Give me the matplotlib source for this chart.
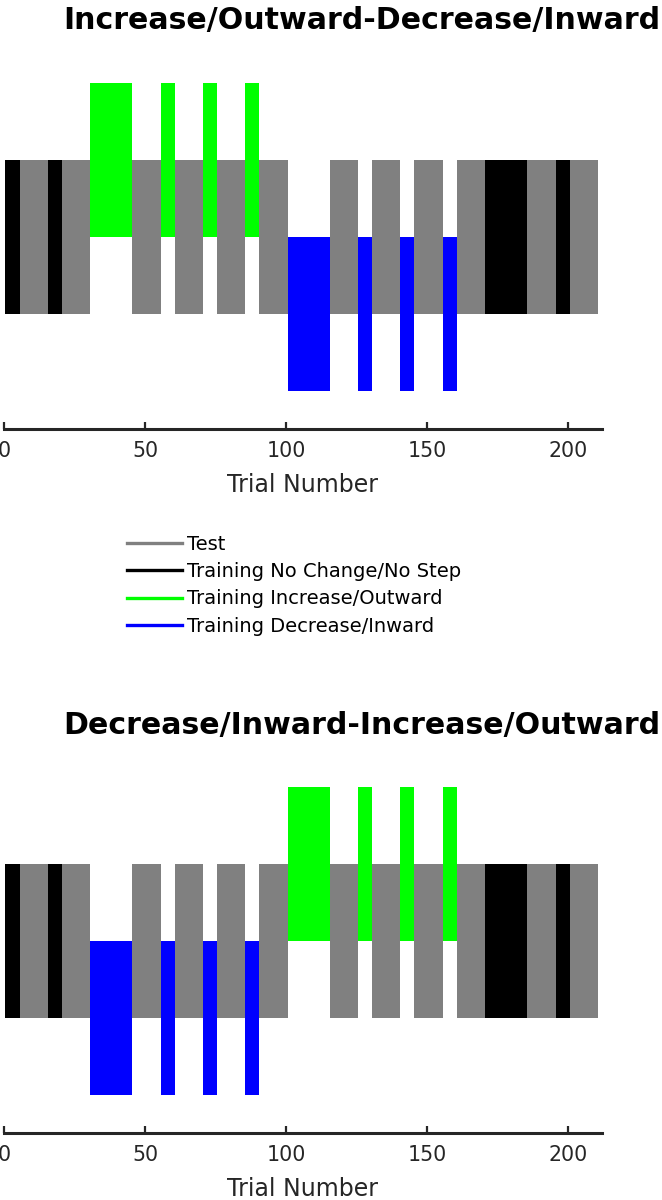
#Libraries

import matplotlib
matplotlib.use("Agg")
import matplotlib.pyplot as plt
from matplotlib.lines import Line2D


# Block schedule (number of trials in each block), same for both panels
block_lengths = [5, 10, 5, 10, 15, 10, 5, 10, 5, 10, 5, 10,
                 15, 10, 5, 10, 5, 10, 5, 10, 15, 10, 5, 10]

# Block type for each block
top_blocks = ['nochange', 'test', 'nochange', 'test',
              'inc', 'test', 'inc', 'test', 'inc', 'test', 'inc', 'test',
              'dec', 'test', 'dec', 'test', 'dec', 'test', 'dec', 'test',
              'nochange', 'test', 'nochange', 'test']
bottom_blocks = ['nochange', 'test', 'nochange', 'test',
                 'dec', 'test', 'dec', 'test', 'dec', 'test', 'dec', 'test',
                 'inc', 'test', 'inc', 'test', 'inc', 'test', 'inc', 'test',
                 'nochange', 'test', 'nochange', 'test']

# Step level of each block type
levels = {'test': 0, 'nochange': 0, 'inc': 1, 'dec': -1}

colors = {'test': '#808080', 'nochange': '#000000',
          'inc': '#00FF00', 'dec': '#0000FF'}

legend_labels = {'test': 'Test',
                 'nochange': 'Training No Change/No Step',
                 'inc': 'Training Increase/Outward',
                 'dec': 'Training Decrease/Inward'}

panel_titles = ['Increase/Outward-Decrease/Inward',
                'Decrease/Inward-Increase/Outward']

x_ticks = [0, 50, 100, 150, 200]

W, H = 662, 1200
AXIS_COLOR = '#262626'


def draw_panel(ax, blocks):
    # trials are numbered from 1, each block covers its trials as one bar
    start = 0.5
    for kind, n in zip(blocks, block_lengths):
        lev = levels[kind]
        ax.bar(start + n / 2, 2, width=n, bottom=lev - 1,
               color=colors[kind], edgecolor='none', linewidth=0)
        start += n

    ax.set_xlim(0, 211.8)
    ax.set_ylim(-2.5, 2.5)
    ax.set_xticks(x_ticks)
    ax.set_yticks([])
    for s in ['left', 'right', 'top']:
        ax.spines[s].set_visible(False)
    ax.spines['bottom'].set_linewidth(2.2)
    ax.spines['bottom'].set_color(AXIS_COLOR)
    ax.tick_params(axis='x', direction='in', length=5, width=1.6,
                   color=AXIS_COLOR, labelcolor=AXIS_COLOR,
                   labelsize=14.8, pad=8.5)
    ax.set_xlabel('Trial Number', fontsize=17, color=AXIS_COLOR, labelpad=9)
    ax.patch.set_alpha(0)


def make_figure():
    fig = plt.figure(figsize=(W / 100, H / 100), dpi=100)

    left = 4 / W
    width = (601.5 - 4) / W
    height = 385 / H

    ax1 = fig.add_axes([left, (H - 429) / H, width, height])
    ax2 = fig.add_axes([left, (H - 1133) / H, width, height])
    draw_panel(ax1, top_blocks)
    draw_panel(ax2, bottom_blocks)

    # titles (left aligned, they reach the right edge in the original)
    fig.text(63 / W, (H - 29.5) / H, panel_titles[0], fontsize=21.6,
             fontweight='bold', ha='left', va='baseline')
    fig.text(63 / W, (H - 734) / H, panel_titles[1], fontsize=21.6,
             fontweight='bold', ha='left', va='baseline')

    # Legend between the panels
    handles = [Line2D([], [], color=colors[k], linewidth=2.4)
               for k in ['test', 'nochange', 'inc', 'dec']]
    labels = [legend_labels[k] for k in ['test', 'nochange', 'inc', 'dec']]
    fig.legend(handles, labels, loc='upper left',
               bbox_to_anchor=(127 / W, (H - 535) / H),
               frameon=False, fontsize=14, handlelength=2.85,
               handletextpad=0.25, labelspacing=0.42,
               borderpad=0, borderaxespad=0)

    fig.savefig('out.png', dpi=100)


if __name__ == "__main__":
    make_figure()
